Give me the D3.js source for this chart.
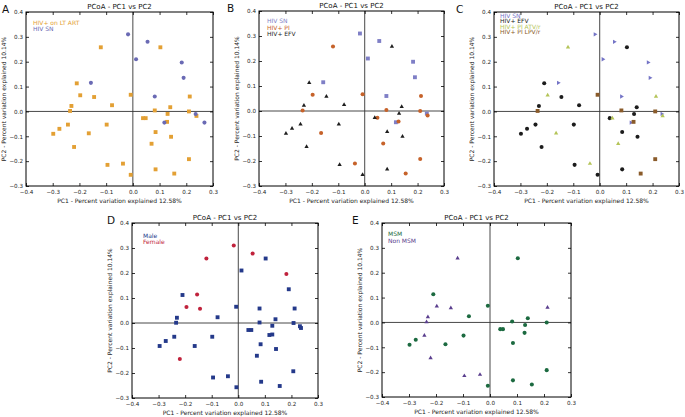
<!DOCTYPE html>
<html><head><meta charset="utf-8">
<script src="https://cdn.jsdelivr.net/npm/d3@7"></script>
<style>body{margin:0;background:#fff}svg{display:block}</style></head><body>
<svg id="c" width="685" height="417"></svg>
<script>
// ---- data ----
const xTicks = [-0.4, -0.3, -0.2, -0.1, 0.0, 0.1, 0.2, 0.3];
const yTicks = [-0.3, -0.2, -0.1, 0.0, 0.1, 0.2, 0.3, 0.4];
const titleText = "PCoA - PC1 vs PC2";
const xLabel = "PC1 - Percent variation explained 12.58%";
const yLabel = "PC2 - Percent variation explained 10.14%";

// Panel A
const artA = [[-0.12,0.258],[0.103,0.258],[-0.21,0.113],[-0.197,0.065],[-0.145,0.058],[-0.008,0.067],[0.213,0.06],[-0.23,0.022],[-0.078,0.025],[0.14,0.017],[-0.235,0.002],[0.082,0.004],[0.21,0.0],[0.13,-0.01],[0.238,-0.018],[0.038,-0.027],[0.048,-0.027],[0.128,-0.042],[-0.243,-0.053],[-0.098,-0.053],[-0.275,-0.07],[-0.298,-0.09],[-0.165,-0.088],[0.085,-0.083],[0.143,-0.102],[0.07,-0.13],[-0.22,-0.143],[0.21,-0.192],[-0.095,-0.215],[-0.037,-0.21],[0.085,-0.233],[0.155,-0.25],[-0.008,-0.255]];
const snA = [[-0.018,0.31],[0.055,0.28],[0.012,0.21],[0.183,0.197],[0.19,0.135],[-0.157,0.115],[0.082,0.06],[0.118,-0.045],[0.235,-0.01],[0.268,-0.045]];

// Panel B / C shared groups
const snB = [[-0.018,0.31],[0.055,0.28],[0.012,0.21],[0.183,0.197],[0.19,0.135],[-0.157,0.115],[0.082,0.06],[0.118,-0.045],[0.235,-0.01]];
const piB = [[-0.12,0.258],[-0.197,0.065],[-0.008,0.067],[0.213,0.06],[-0.235,0.002],[0.082,0.004],[0.21,0.0],[0.048,-0.027],[0.128,-0.042],[0.238,-0.018],[-0.165,-0.088],[0.07,-0.13],[-0.037,-0.21],[0.21,-0.192],[0.155,-0.25]];
const efvB = [[0.103,0.258],[-0.21,0.113],[-0.145,0.058],[-0.23,0.022],[-0.078,0.025],[0.14,0.017],[0.13,-0.01],[0.038,-0.027],[-0.243,-0.053],[-0.098,-0.053],[-0.275,-0.07],[-0.298,-0.09],[0.085,-0.083],[0.143,-0.102],[-0.22,-0.143],[-0.095,-0.215],[0.085,-0.233],[-0.008,-0.255]];
const atvC = [[-0.12,0.258],[-0.197,0.065],[0.213,0.06],[0.238,-0.018],[0.048,-0.027],[-0.165,-0.088],[0.07,-0.13],[-0.037,-0.21]];
const lpvC = [[-0.008,0.067],[-0.235,0.002],[0.082,0.004],[0.21,0.0],[0.128,-0.042],[0.21,-0.192],[0.155,-0.25]];

// Panel D
const maleD = [[0.103,0.258],[0.012,0.21],[0.19,0.135],[-0.21,0.112],[-0.008,0.065],[0.08,0.058],[0.212,0.058],[-0.231,0.021],[-0.078,0.023],[0.14,0.015],[-0.234,0.001],[0.08,0.002],[0.208,0.0],[0.128,-0.011],[0.232,-0.013],[0.236,-0.02],[0.038,-0.028],[0.049,-0.028],[0.117,-0.048],[0.128,-0.046],[-0.241,-0.055],[-0.098,-0.055],[-0.273,-0.072],[-0.296,-0.092],[-0.164,-0.092],[0.084,-0.085],[0.142,-0.104],[0.07,-0.131],[0.207,-0.193],[-0.095,-0.218],[-0.039,-0.213],[0.086,-0.235],[0.156,-0.252],[-0.007,-0.257]];
const femaleD = [[-0.017,0.31],[0.054,0.278],[-0.12,0.258],[0.181,0.196],[-0.155,0.114],[-0.195,0.064],[-0.144,0.057],[-0.22,-0.144]];

// Panel E
const msmE = [[0.103,0.258],[-0.21,0.113],[-0.008,0.067],[-0.078,0.025],[0.082,0.004],[0.14,0.017],[0.21,0.0],[0.13,-0.01],[0.038,-0.027],[0.048,-0.027],[0.128,-0.042],[-0.098,-0.053],[-0.275,-0.07],[-0.298,-0.09],[-0.165,-0.088],[0.085,-0.083],[0.21,-0.192],[0.085,-0.233],[0.155,-0.25],[-0.008,-0.255]];
const nonMsmE = [[-0.12,0.258],[-0.197,0.065],[-0.145,0.058],[-0.23,0.022],[-0.235,0.002],[-0.243,-0.053],[-0.22,-0.143],[-0.095,-0.215],[-0.037,-0.21],[0.213,0.06]];

// ---- layout ----
const panels = [
  {letter:"A", box:[26,12,213,186], lx:2, leg:{dx:7, y0:24.5, dy:6.5}, series:[
    {name:"HIV+ on LT ART", data:artA, shape:"square", color:"#e3a034"},
    {name:"HIV SN", data:snA, shape:"circle", color:"#6a6ab4"}]},
  {letter:"B", box:[259,11,444,186], lx:227, leg:{dx:8, y0:23, dy:6.5}, series:[
    {name:"HIV SN", data:snB, shape:"square", color:"#7f7fc6"},
    {name:"HIV+ PI", data:piB, shape:"circle", color:"#c6622a"},
    {name:"HIV+ EFV", data:efvB, shape:"triangle", color:"#1e1e1e"}]},
  {letter:"C", box:[494,12,679,186], lx:456, leg:{dx:6, y0:17.5, dy:5.6}, series:[
    {name:"HIV SN", data:snB, shape:"right", color:"#7474c6"},
    {name:"HIV+ EFV", data:efvB, shape:"circle", color:"#1c1c1c"},
    {name:"HIV+ PI ATV/r", data:atvC, shape:"triangle", color:"#b4c458"},
    {name:"HIV+ PI LPV/r", data:lpvC, shape:"square", color:"#8a5b2a"}]},
  {letter:"D", box:[132,223,318,398], lx:107, leg:{dx:11, y0:237.5, dy:6.5}, series:[
    {name:"Male", data:maleD, shape:"square", color:"#24398a"},
    {name:"Female", data:femaleD, shape:"circle", color:"#c0223c"}]},
  {letter:"E", box:[382,223,571,397], lx:352, leg:{dx:6, y0:236, dy:6.5}, series:[
    {name:"MSM", data:msmE, shape:"circle", color:"#1c6a40"},
    {name:"Non MSM", data:nonMsmE, shape:"triangle", color:"#5a3e8e"}]}
];

const svg = d3.select("#c");
const font = "DejaVu Sans, Arial, sans-serif";
const fmt = d3.format(".1f");
const shapes = {
  square: {type: d3.symbolSquare, size: 15, rot: 0},
  circle: {type: d3.symbolCircle, size: 13, rot: 0},
  triangle: {type: d3.symbolTriangle, size: 8, rot: 0},
  right: {type: d3.symbolTriangle, size: 8, rot: 90}
};

panels.forEach(p => {
  const [x0, y0, x1, y1] = p.box;
  const x = d3.scaleLinear().domain([-0.4, 0.3]).range([x0, x1]);
  const y = d3.scaleLinear().domain([-0.3, 0.4]).range([y1, y0]);
  const g = svg.append("g").attr("font-family", font);

  // zero lines
  g.append("line").attr("x1", x(0)).attr("x2", x(0)).attr("y1", y0).attr("y2", y1)
    .attr("stroke", "#333").attr("stroke-width", 0.9);
  g.append("line").attr("x1", x0).attr("x2", x1).attr("y1", y(0)).attr("y2", y(0))
    .attr("stroke", "#333").attr("stroke-width", 0.9);

  // points
  p.series.forEach(s => {
    const sh = shapes[s.shape];
    const sym = d3.symbol().type(sh.type).size(sh.size);
    g.selectAll(null).data(s.data).enter().append("path")
      .attr("d", sym)
      .attr("transform", d => `translate(${x(d[0])},${y(d[1])}) rotate(${sh.rot})`)
      .attr("fill", s.color);
  });

  // axes with inward ticks
  const axB = d3.axisBottom(x).tickValues(xTicks).tickSize(-3).tickPadding(4).tickFormat(fmt);
  const axT = d3.axisTop(x).tickValues(xTicks).tickSize(-3).tickFormat("");
  const axL = d3.axisLeft(y).tickValues(yTicks).tickSize(-3).tickPadding(3).tickFormat(fmt);
  const axR = d3.axisRight(y).tickValues(yTicks).tickSize(-3).tickFormat("");
  const style = sel => {
    sel.select(".domain").remove();
    sel.selectAll(".tick line").attr("stroke", "#000").attr("stroke-width", 0.8);
    sel.selectAll("text").attr("font-size", 5.6).attr("font-family", font).attr("fill", "#222");
  };
  g.append("g").attr("transform", `translate(0,${y1})`).call(axB).call(style);
  g.append("g").attr("transform", `translate(0,${y0})`).call(axT).call(style);
  g.append("g").attr("transform", `translate(${x0},0)`).call(axL).call(style);
  g.append("g").attr("transform", `translate(${x1},0)`).call(axR).call(style);

  // frame
  g.append("rect").attr("x", x0).attr("y", y0).attr("width", x1 - x0).attr("height", y1 - y0)
    .attr("fill", "none").attr("stroke", "#000").attr("stroke-width", 1);

  // legend (text only)
  p.series.forEach((s, i) => {
    g.append("text").attr("x", x0 + p.leg.dx).attr("y", p.leg.y0 + i * p.leg.dy)
      .attr("font-size", 6).attr("fill", s.color).text(s.name);
  });

  // title
  g.append("text").attr("x", (x0 + x1) / 2).attr("y", y0 - 3).attr("text-anchor", "middle")
    .attr("font-size", 7).attr("fill", "#111").text(titleText);
  // panel letter
  g.append("text").attr("x", p.lx).attr("y", y0 + 0.5).attr("font-size", 10.5)
    .attr("fill", "#111").text(p.letter);
  // axis labels
  g.append("text").attr("x", (x0 + x1) / 2).attr("y", y1 + 17).attr("text-anchor", "middle")
    .attr("font-size", 6).attr("fill", "#222").text(xLabel);
  g.append("text").attr("transform", `translate(${x0 - 20},${(y0 + y1) / 2}) rotate(-90)`)
    .attr("text-anchor", "middle").attr("font-size", 6).attr("fill", "#222").text(yLabel);
});
</script>
</body></html>
